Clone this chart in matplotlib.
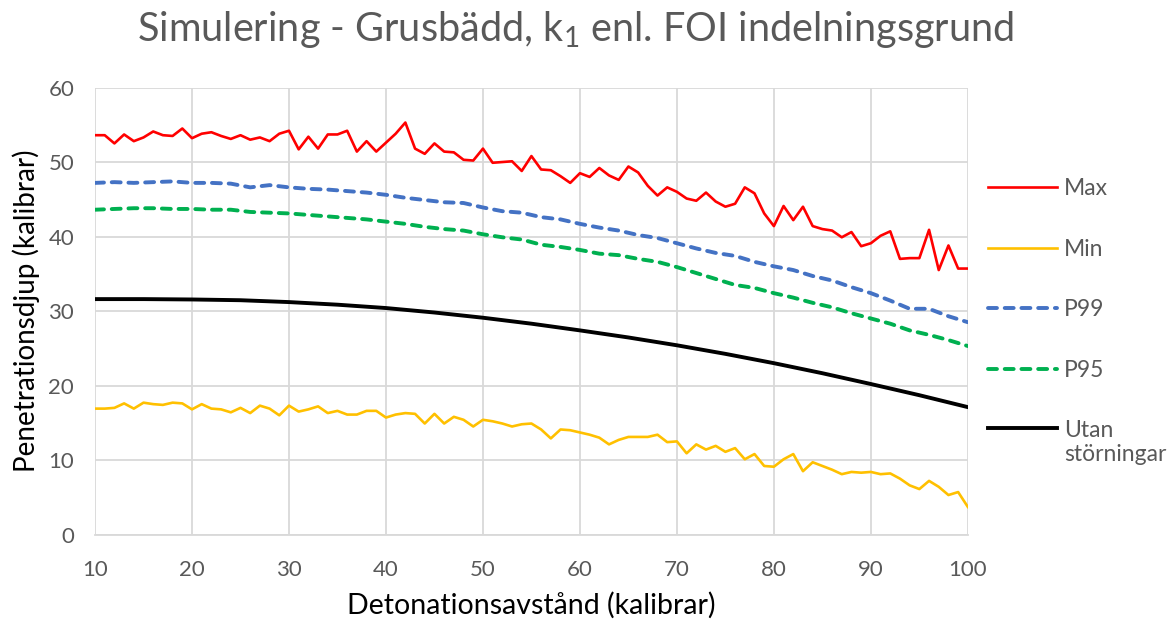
import matplotlib
matplotlib.use("Agg")
import matplotlib.pyplot as plt
from matplotlib.ticker import MultipleLocator

# Detonation distance in calibres
x_all = list(range(10, 101))

max_vals = [53.6, 53.6, 52.5, 53.7, 52.8, 53.3, 54.1, 53.6, 53.5, 54.5,
            53.2, 53.8, 54.0, 53.5, 53.1, 53.6, 53.0, 53.3, 52.8, 53.8,
            54.2, 51.7, 53.4, 51.8, 53.7, 53.7, 54.2, 51.4, 52.8, 51.4,
            52.6, 53.8, 55.3, 51.8, 51.1, 52.5, 51.4, 51.3, 50.3, 50.2,
            51.8, 49.9, 50.0, 50.1, 48.8, 50.8, 49.0, 48.9, 48.1, 47.2,
            48.5, 48.0, 49.2, 48.2, 47.6, 49.4, 48.6, 46.8, 45.5, 46.6,
            46.0, 45.1, 44.8, 45.9, 44.7, 44.0, 44.4, 46.6, 45.8, 43.1,
            41.4, 44.1, 42.2, 44.0, 41.4, 41.0, 40.8, 39.9, 40.6, 38.7,
            39.1, 40.1, 40.7, 37.0, 37.1, 37.1, 40.9, 35.5, 38.8, 35.7,
            35.7]

min_vals = [16.9, 16.9, 17.0, 17.6, 16.9, 17.7, 17.5, 17.4, 17.7, 17.6,
            16.8, 17.5, 16.9, 16.8, 16.4, 17.0, 16.3, 17.3, 16.9, 16.0,
            17.3, 16.5, 16.8, 17.2, 16.3, 16.6, 16.1, 16.1, 16.6, 16.6,
            15.7, 16.1, 16.3, 16.2, 14.9, 16.2, 14.9, 15.8, 15.4, 14.5,
            15.4, 15.2, 14.9, 14.5, 14.8, 14.9, 14.1, 12.9, 14.1, 14.0,
            13.7, 13.4, 13.0, 12.1, 12.7, 13.1, 13.1, 13.1, 13.4, 12.4,
            12.5, 10.9, 12.1, 11.4, 11.9, 11.1, 11.6, 10.1, 10.8, 9.2,
            9.1, 10.1, 10.8, 8.5, 9.7, 9.2, 8.7, 8.1, 8.4, 8.3,
            8.4, 8.1, 8.2, 7.5, 6.6, 6.1, 7.2, 6.4, 5.3, 5.7,
            3.7]

# Percentile curves, read every second calibre
x_even = list(range(10, 101, 2))
p99_vals = [47.2, 47.3, 47.2, 47.3, 47.4, 47.2, 47.2, 47.1, 46.6, 46.9,
            46.6, 46.4, 46.3, 46.1, 45.9, 45.6, 45.2, 44.9, 44.6, 44.5,
            43.9, 43.4, 43.2, 42.6, 42.3, 41.7, 41.2, 40.8, 40.2, 39.8,
            39.1, 38.4, 37.8, 37.4, 36.6, 36.0, 35.5, 34.7, 34.1, 33.2,
            32.4, 31.4, 30.3, 30.3, 29.3, 28.5]
p95_vals = [43.6, 43.7, 43.8, 43.8, 43.7, 43.7, 43.6, 43.6, 43.3, 43.2,
            43.1, 42.9, 42.7, 42.5, 42.3, 42.0, 41.7, 41.3, 41.0, 40.8,
            40.3, 39.9, 39.6, 38.9, 38.6, 38.2, 37.7, 37.5, 37.0, 36.6,
            35.9, 35.1, 34.3, 33.5, 33.1, 32.4, 31.8, 31.1, 30.5, 29.7,
            29.0, 28.3, 27.4, 26.8, 26.1, 25.3]

# Undisturbed penetration, every fifth calibre
x_five = list(range(10, 101, 5))
undisturbed = [31.6, 31.6, 31.55, 31.45, 31.2, 30.85, 30.4, 29.8, 29.1, 28.3,
               27.4, 26.45, 25.4, 24.25, 23.0, 21.65, 20.2, 18.7, 17.1]

labels = ["Max", "Min", "P99", "P95", "Utan\nstörningar"]
title = r"Simulering - Grusbädd, k$_{\mathregular{1}}$ enl. FOI indelningsgrund"
xlabel = "Detonationsavstånd (kalibrar)"
ylabel = "Penetrationsdjup (kalibrar)"

FONT = "Lato"
GREY = "#595959"
GRID = "#d9d9d9"
plt.rcParams["font.family"] = [FONT, "DejaVu Sans"]

fig = plt.figure(figsize=(11.76, 6.27), dpi=100)
ax = fig.add_axes([0.0808, 0.1475, 0.7422, 0.7129])

ax.plot(x_all, max_vals, color="#FF0000", lw=1.9, label=labels[0], zorder=3)
ax.plot(x_all, min_vals, color="#FFC000", lw=1.9, label=labels[1], zorder=3)
ax.plot(x_even, p99_vals, color="#4472C4", lw=2.8, dashes=(2.3, 2.0),
        dash_capstyle="round", label=labels[2], zorder=3)
ax.plot(x_even, p95_vals, color="#00B050", lw=2.8, dashes=(2.3, 2.0),
        dash_capstyle="round", label=labels[3], zorder=3)
ax.plot(x_five, undisturbed, color="#000000", lw=2.8, label=labels[4], zorder=3)

ax.set_xlim(10, 100)
ax.set_ylim(0, 60)
ax.xaxis.set_major_locator(MultipleLocator(10))
ax.yaxis.set_major_locator(MultipleLocator(10))
ax.grid(True, color=GRID, lw=1.3)
for s in ["top", "right", "left"]:
    ax.spines[s].set_visible(False)
ax.spines["bottom"].set_color(GRID)
ax.spines["bottom"].set_linewidth(1.3)
ax.tick_params(length=0, labelsize=16, labelcolor=GREY)
ax.tick_params(axis="x", pad=18)
ax.tick_params(axis="y", pad=15)

ax.set_xlabel(xlabel, fontsize=20.5, color="#000000", labelpad=9)
ax.set_ylabel(ylabel, fontsize=20, color="#000000", labelpad=6)
fig.suptitle(title, fontsize=28.5, color=GREY, x=0.489, y=0.985)

leg = ax.legend(loc="upper left", bbox_to_anchor=(1.0, 0.843), frameon=False,
                fontsize=16.5, handlelength=3.0, handletextpad=0.3,
                labelspacing=1.72, labelcolor=GREY)
# keep the two-line entry's line level with its first text line
for t in leg.get_texts():
    t.set_linespacing(1.15)
h = leg.legend_handles[4]
h.set_ydata([v + 10.5 for v in h.get_ydata()])

fig.savefig("out.png", dpi=100)
